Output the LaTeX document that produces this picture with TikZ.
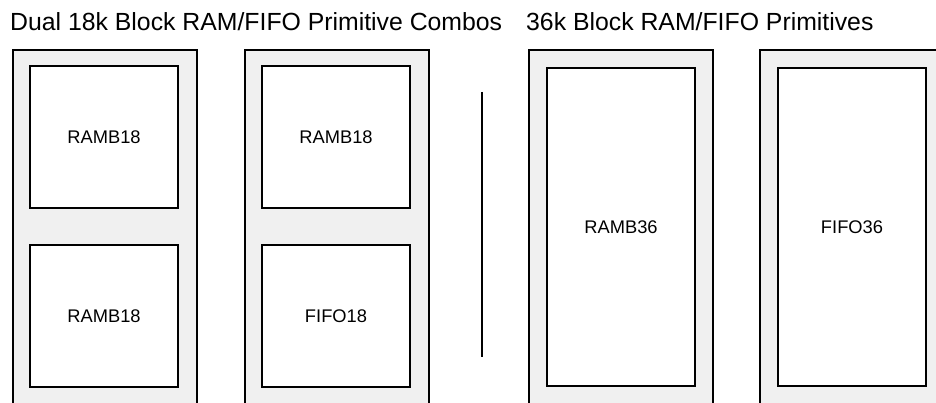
\documentclass[tikz,border=0pt]{standalone}
\usepackage{fontspec}
\setmainfont{Liberation Sans}
\usepackage{tikz}
\usetikzlibrary{positioning}
\definecolor{Shell}{HTML}{F0F0F0}

\tikzset{
  shell/.style={draw=black, line width=2pt, fill=Shell, anchor=north west,
                minimum width=184pt, minimum height=400pt, inner sep=0pt},
  half/.style={draw=black, line width=2.5pt, fill=white,
               minimum width=148pt, minimum height=142pt, inner sep=0pt,
               font=\fontsize{18.3}{21}\selectfont},
  full/.style={half, minimum height=318pt},
  heading/.style={anchor=base west, inner sep=0pt,
                  font=\fontsize{24.8}{28}\selectfont}
}

\begin{document}
\begin{tikzpicture}[x=1pt, y=-1pt]
  \useasboundingbox (0,0) rectangle (936,403);

  \node[heading] (dualtitle) at (10,31) {Dual 18k Block RAM/FIFO Primitive Combos};
  \node[heading] (fulltitle) at (526,31) {36k Block RAM/FIFO Primitives};

  % dual 18k combos
  \node[shell] (comboA) at (12,49) {};
  \node[shell] (comboB) at (244,49) {};
  \node[half] (ramA) at (104,137) {RAMB18};
  \node[half] (ramB) at (104,316) {RAMB18};
  \node[half] (ramC) at (336,137) {RAMB18};
  \node[half] (fifoC) at (336,316) {FIFO18};

  % divider
  \coordinate (divtop) at (482,92);
  \coordinate (divbot) at (482,357);
  \draw[line width=2pt] (divtop) -- (divbot);

  % 36k primitives
  \node[shell] (primA) at (528,49) {};
  \node[shell] (primB) at (759,49) {};
  \node[full] (ram36) at (621,227) {RAMB36};
  \node[full] (fifo36) at (852,227) {FIFO36};
\end{tikzpicture}
\end{document}
